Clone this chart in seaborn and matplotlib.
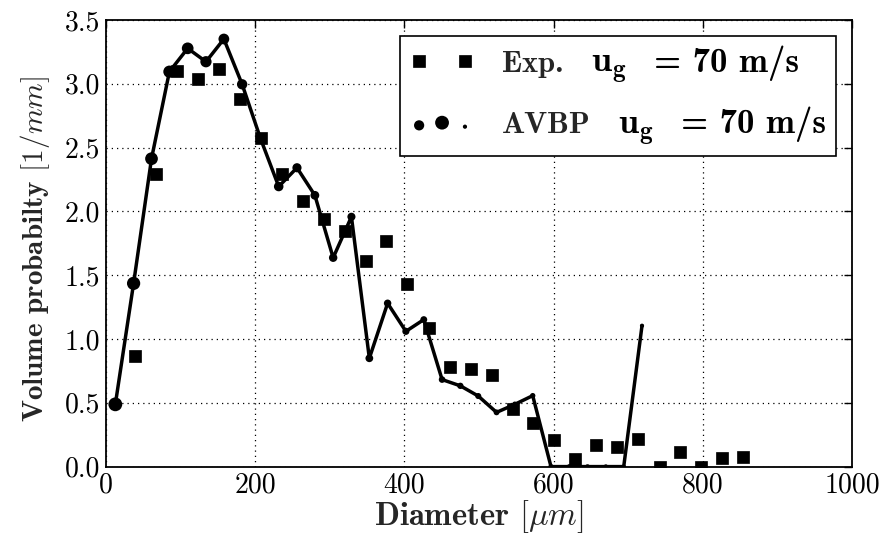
import numpy as np
import matplotlib
matplotlib.use("Agg")
import matplotlib.pyplot as plt
from matplotlib.offsetbox import TextArea
import seaborn as sns

# Experimental volume probability (squares)
exp_diameter = [39, 67, 95, 123, 151, 179, 207.5, 235.5, 264, 292,
                320, 348, 376, 404, 432.5, 461, 489, 517, 545, 573,
                601, 629, 657, 685, 713, 742, 770, 798, 826, 854]
exp_prob = [0.865, 2.296, 3.103, 3.035, 3.113, 2.883, 2.573, 2.292, 2.079, 1.939,
            1.844, 1.614, 1.767, 1.431, 1.083, 0.783, 0.766, 0.718, 0.449, 0.339,
            0.208, 0.057, 0.169, 0.156, 0.216, 0.0, 0.112, 0.0, 0.065, 0.073]

# AVBP simulation (line with shrinking dots)
avbp_diameter = [12.5, 37, 61, 85, 109.5, 134, 158, 182.5, 207, 231.5,
                 256, 280, 304.5, 329, 353, 377.5, 402, 426, 450.5, 475,
                 499, 523.5, 548, 572, 596.5, 621, 645.5, 670, 694, 718.5]
avbp_prob = [0.488, 1.436, 2.413, 3.095, 3.278, 3.173, 3.351, 2.996, 2.573, 2.195,
             2.342, 2.126, 1.637, 1.958, 0.849, 1.280, 1.060, 1.152, 0.682, 0.633,
             0.553, 0.425, 0.488, 0.556, 0.0, 0.0, 0.0, 0.0, 0.0, 1.104]

series_names = ["Exp.", "AVBP"]
velocity_symbol = r"$\mathbf{u_g}$"
speed_label = "= 70 m/s"

x_ticks = [0, 200, 400, 600, 800, 1000]
y_ticks = [0.0, 0.5, 1.0, 1.5, 2.0, 2.5, 3.0, 3.5]

sns.set_style("white")
plt.rcParams.update({
    "font.family": "serif",
    "font.serif": ["cmr10", "DejaVu Serif"],
    "mathtext.fontset": "cm",
    "axes.unicode_minus": False,
    "axes.formatter.use_mathtext": True,
})

fig = plt.figure(figsize=(8.93, 5.34), dpi=100)
ax = fig.add_axes([106 / 893, 1 - 466.6 / 534, 746 / 893, 446.6 / 534])

# dot sizes shrink along the simulated curve
n = len(avbp_diameter)
dot_px = np.geomspace(13.8, 4.2, n)
dot_area = (dot_px * 0.72) ** 2

sns.lineplot(x=avbp_diameter, y=avbp_prob, ax=ax, color="k", lw=2.5,
             sort=False, legend=False)
sns.scatterplot(x=avbp_diameter, y=avbp_prob, ax=ax, s=dot_area, color="k",
                edgecolor="k", linewidth=0, legend=False, zorder=3)
dots = ax.collections[-1]
sns.lineplot(x=exp_diameter, y=exp_prob, ax=ax, color="k", marker="s",
             linestyle="", ms=9.3, mew=0.5, mec="k", sort=False, legend=False,
             zorder=4)
squares = ax.lines[-1]

ax.set_xlim(0, 1000)
ax.set_ylim(0, 3.5)
ax.set_xticks(x_ticks)
ax.set_yticks(y_ticks)
ax.set_xticklabels([str(t) for t in x_ticks])
ax.set_yticklabels([f"{t:.1f}" for t in y_ticks])
ax.tick_params(direction="in", length=6, width=1, top=True, right=True,
               labelsize=20, pad=4, colors="k")
ax.grid(True, color="k", linestyle=(0, (1, 3.2)), linewidth=0.9)
for sp in ax.spines.values():
    sp.set_color("k")
    sp.set_linewidth(1.3)

bold = dict(family="cmb10")
ax.set_xlabel(r"Diameter $[\mu m]$", fontsize=23.5, labelpad=0, **bold)
ax.set_ylabel(r"Volume probabilty $[1/mm]$", fontsize=21, **bold)
ax.yaxis.set_label_coords(-0.072, 0.487)

leg = ax.legend(handles=[squares, dots], labels=series_names,
                loc="upper right", numpoints=2, scatterpoints=3,
                prop=dict(family="cmb10", size=22),
                frameon=True, fancybox=False, framealpha=1, edgecolor="k",
                borderaxespad=0.52, handlelength=2.1, handletextpad=0.9,
                labelspacing=0.7, borderpad=0.32)
leg.get_frame().set_linewidth(1.2)

# each legend row reads: name, u_g, "= 70 m/s"
rows = leg._legend_handle_box.get_children()[0].get_children()
for row in rows:
    sym = TextArea(velocity_symbol, textprops=dict(fontsize=26, color="k"))
    spd = TextArea(speed_label, textprops=dict(fontsize=25, color="k", family="cmb10"))
    for ta in (sym, spd):
        ta.set_figure(fig)
        row.get_children().append(ta)

fig.savefig("out.png", dpi=100)
